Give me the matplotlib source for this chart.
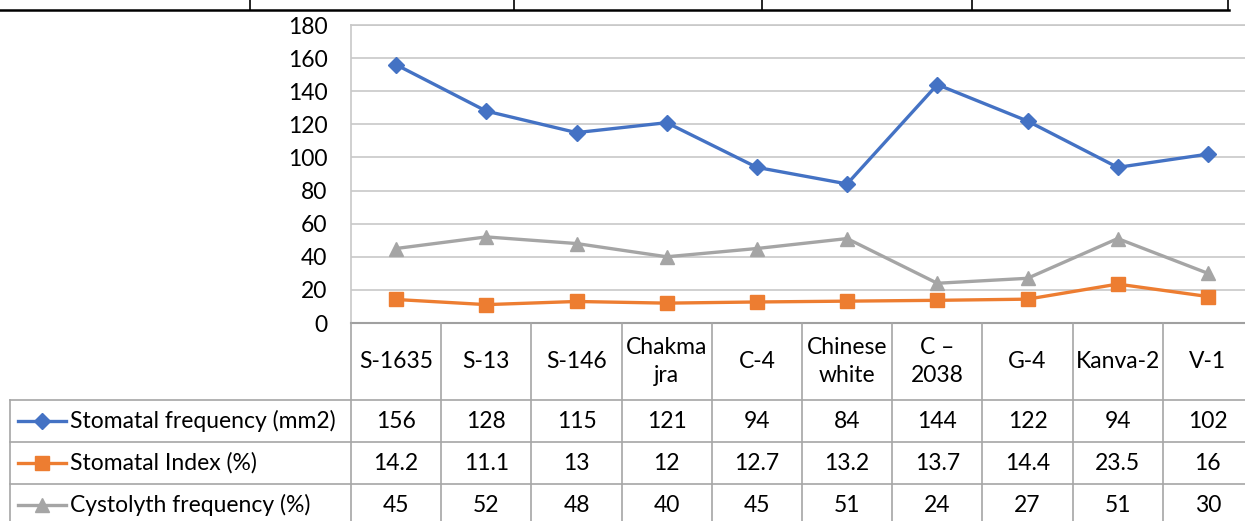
import matplotlib.pyplot as plt
from matplotlib.lines import Line2D
from matplotlib.transforms import blended_transform_factory

plt.rcParams['font.family'] = ['Lato', 'DejaVu Sans']

varieties = ['S-1635', 'S-13', 'S-146', 'Chakma\njra', 'C-4', 'Chinese\nwhite',
             'C –\n2038', 'G-4', 'Kanva-2', 'V-1']
stomatal_freq = [156, 128, 115, 121, 94, 84, 144, 122, 94, 102]
stomatal_index = [14.2, 11.1, 13, 12, 12.7, 13.2, 13.7, 14.4, 23.5, 16]
cystolyth_freq = [45, 52, 48, 40, 45, 51, 24, 27, 51, 30]
series_names = ['Stomatal frequency (mm2)', 'Stomatal Index (%)', 'Cystolyth frequency (%)']
yticks = [0, 20, 40, 60, 80, 100, 120, 140, 160, 180]

colors = ['#4472C4', '#ED7D31', '#A5A5A5']
markers = ['D', 's', '^']
msizes = [8, 10, 10]
grid_col = '#c8c8c8'
fs = 16.5

W, H = 1245, 521
fig = plt.figure(figsize=(W / 100, H / 100), dpi=100)

# pixel helpers
def fx(px):
    return px / W

def fy(py):
    return 1 - py / H

ax_left, ax_right, ax_top, ax_bot = 351, 1253, 25, 323
ax = fig.add_axes([fx(ax_left), fy(ax_bot), fx(ax_right - ax_left), (ax_bot - ax_top) / H])

x = list(range(len(varieties)))
all_series = [stomatal_freq, stomatal_index, cystolyth_freq]
for vals, c, m, ms in zip(all_series, colors, markers, msizes):
    ax.plot(x, vals, color=c, lw=2.4, marker=m, ms=ms, zorder=3)

ax.set_xlim(-0.5, len(varieties) - 0.5)
ax.set_ylim(0, 180)
ax.set_yticks(yticks)
ax.set_yticklabels([str(t) for t in yticks], fontsize=fs)
ax.set_xticks([])
ax.tick_params(axis='y', length=0, pad=17)
ax.grid(axis='y', color=grid_col, lw=1.2)
ax.set_axisbelow(True)
for s in ['left', 'top', 'right']:
    ax.spines[s].set_color(grid_col)
    ax.spines[s].set_linewidth(1.2)
ax.spines['bottom'].set_color('#a0a0a0')
ax.spines['bottom'].set_linewidth(1.5)

# data table below the axis
tr = blended_transform_factory(ax.transData, fig.transFigure)
rows = [323, 400, 442, 484, 526]
tcol = '#a6a6a6'
for i in range(len(varieties) + 1):
    fig.add_artist(Line2D([i - 0.5, i - 0.5], [fy(rows[0]), fy(rows[-1])],
                          transform=tr, color=tcol, lw=1.2))
for r in rows[1:]:
    fig.add_artist(Line2D([fx(10), fx(ax_right)], [fy(r), fy(r)], color=tcol, lw=1.2))
fig.add_artist(Line2D([fx(10), fx(10)], [fy(rows[1]), fy(rows[-1])], color=tcol, lw=1.2))

for i, name in enumerate(varieties):
    fig.text(i, fy((rows[0] + rows[1]) / 2), name, transform=tr, ha='center', va='center',
             fontsize=fs, linespacing=1.4)

for k, vals in enumerate(all_series):
    yc = fy((rows[k + 1] + rows[k + 2]) / 2)
    for i, v in enumerate(vals):
        fig.text(i, yc, f'{v:g}', transform=tr, ha='center', va='center', fontsize=fs)
    fig.add_artist(Line2D([fx(18), fx(66)], [yc, yc], color=colors[k], lw=2.4))
    fig.add_artist(Line2D([fx(42)], [yc], color=colors[k], marker=markers[k], ms=msizes[k]))
    fig.text(fx(70), yc, series_names[k], ha='left', va='center', fontsize=fs)

# top border from the surrounding document table
fig.add_artist(Line2D([0, fx(1229)], [fy(10), fy(10)], color='black', lw=1.8))
for px in [250, 514, 762, 972, 1228]:
    fig.add_artist(Line2D([fx(px), fx(px)], [1, fy(10)], color='black', lw=1.2))

fig.savefig('out.png', dpi=100)
